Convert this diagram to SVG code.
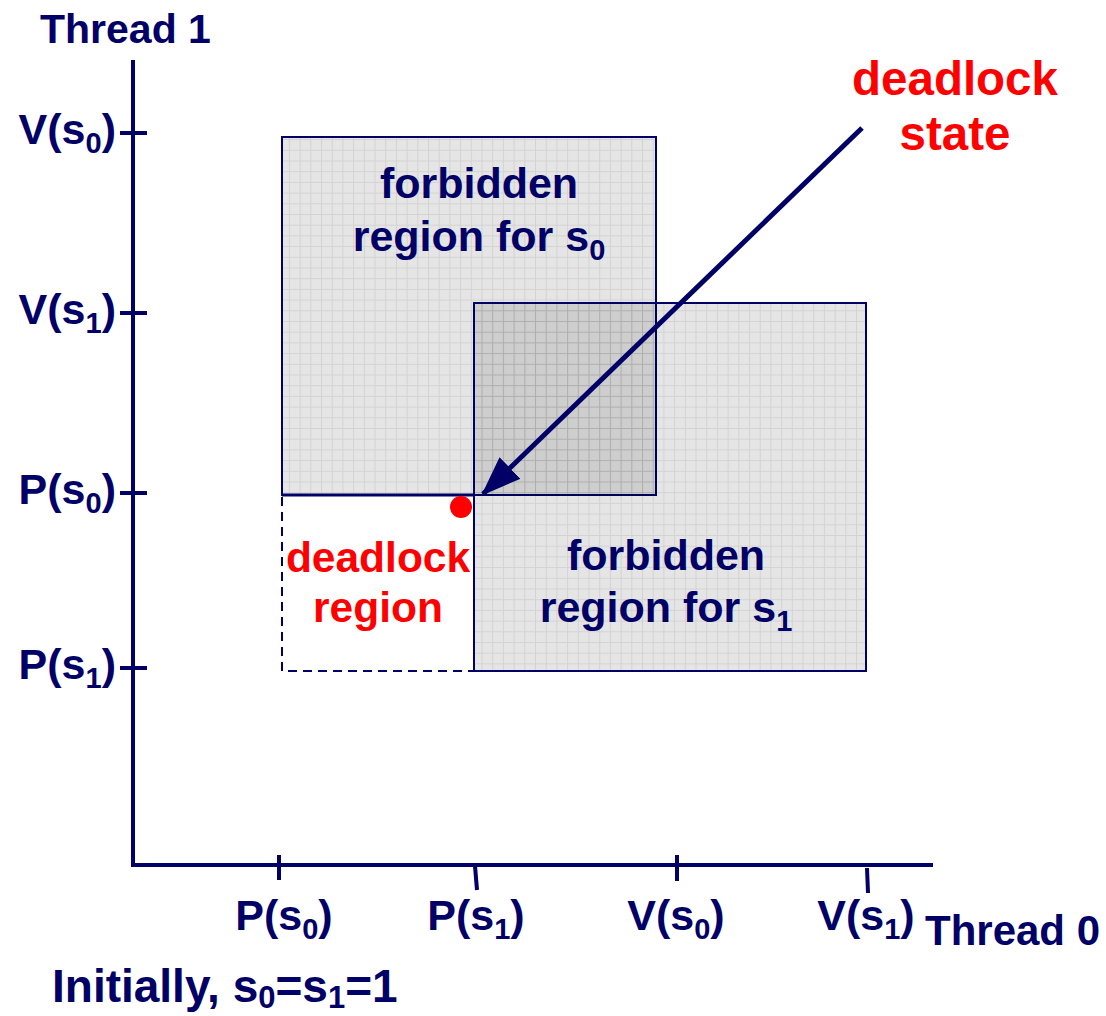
<svg xmlns="http://www.w3.org/2000/svg" width="1106" height="1016" viewBox="0 0 1106 1016">
<style>
.t{font-family:"Liberation Sans",Arial,sans-serif;font-weight:bold;fill:#000066}
.r{font-family:"Liberation Sans",Arial,sans-serif;font-weight:bold;fill:#ff0000}
.ax{stroke:#000066;stroke-width:4;fill:none}
.box{stroke:#000066;stroke-width:2}
.dash{stroke:#000066;stroke-width:2;stroke-dasharray:9 6;fill:none}
</style>
<defs>
<pattern id="grid" width="10.7" height="10.7" patternUnits="userSpaceOnUse">
<rect width="10.7" height="10.7" fill="#000" fill-opacity="0.1"/>
<path d="M0 0.5H10.7M0.5 0V10.7" stroke="#000" stroke-opacity="0.08" stroke-width="1"/>
</pattern>
<marker id="ah" markerWidth="8" markerHeight="6" refX="7.5" refY="3" orient="auto" markerUnits="strokeWidth">
<path d="M0 0L8 3L0 6Z" fill="#000066"/>
</marker>
</defs>
<rect width="1106" height="1016" fill="#fff"/>

<g id="deadlock-region-outline">
<path class="dash" d="M282 497V671H474"/>
</g>
<g id="forbidden-s0">
<rect class="box" x="282" y="137" width="374" height="358" fill="url(#grid)"/>
<line x1="282" y1="495" x2="474" y2="495" stroke="#000066" stroke-width="3"/>
<text class="t" font-size="43" text-anchor="middle" x="479" y="198">forbidden</text>
<text class="t" font-size="43" text-anchor="middle" x="479" y="251">region for s<tspan font-size="29" dy="9">0</tspan></text>
</g>
<g id="forbidden-s1">
<rect class="box" x="474" y="303" width="392" height="368" fill="url(#grid)"/>
<text class="t" font-size="43" text-anchor="middle" x="666" y="570">forbidden</text>
<text class="t" font-size="43" text-anchor="middle" x="666" y="622">region for s<tspan font-size="29" dy="9">1</tspan></text>
</g>
<g id="deadlock-region-label">
<text class="r" font-size="42.5" text-anchor="middle" x="378" y="572">deadlock</text>
<text class="r" font-size="42.5" text-anchor="middle" x="378" y="622">region</text>
</g>
<g id="deadlock-point">
<circle cx="461" cy="507" r="11" fill="#ff0000"/>
</g>
<g id="deadlock-state-label">
<text class="r" font-size="47.5" text-anchor="middle" x="955" y="95">deadlock</text>
<text class="r" font-size="47.5" text-anchor="middle" x="955" y="150">state</text>
</g>

<g id="axes">
<line class="ax" x1="133" y1="60" x2="133" y2="867"/>
<line class="ax" x1="131" y1="865" x2="933" y2="865"/>
<line class="ax" x1="120" y1="133" x2="147" y2="133"/>
<line class="ax" x1="120" y1="313" x2="147" y2="313"/>
<line class="ax" x1="120" y1="493" x2="147" y2="493"/>
<line class="ax" x1="120" y1="668" x2="147" y2="668"/>
<line class="ax" x1="279" y1="855" x2="279" y2="880"/>
<line class="ax" x1="475" y1="866" x2="477" y2="890"/>
<line class="ax" x1="677" y1="855" x2="677" y2="881"/>
<line class="ax" x1="867" y1="868" x2="868" y2="893"/>
</g>

<g id="connectors">
<line x1="862" y1="128" x2="483" y2="494" stroke="#000066" stroke-width="5" marker-end="url(#ah)"/>
</g>

<g id="labels">
<text class="t" font-size="41" x="40" y="43">Thread 1</text>
<text class="t" font-size="43" text-anchor="end" x="116" y="144">V(s<tspan font-size="29" dy="9">0</tspan><tspan dy="-9">)</tspan></text>
<text class="t" font-size="43" text-anchor="end" x="116" y="324">V(s<tspan font-size="29" dy="9">1</tspan><tspan dy="-9">)</tspan></text>
<text class="t" font-size="43" text-anchor="end" x="116" y="504">P(s<tspan font-size="29" dy="9">0</tspan><tspan dy="-9">)</tspan></text>
<text class="t" font-size="43" text-anchor="end" x="116" y="679">P(s<tspan font-size="29" dy="9">1</tspan><tspan dy="-9">)</tspan></text>
<text class="t" font-size="43" text-anchor="middle" x="284" y="930">P(s<tspan font-size="29" dy="9">0</tspan><tspan dy="-9">)</tspan></text>
<text class="t" font-size="43" text-anchor="middle" x="476" y="930">P(s<tspan font-size="29" dy="9">1</tspan><tspan dy="-9">)</tspan></text>
<text class="t" font-size="43" text-anchor="middle" x="676" y="930">V(s<tspan font-size="29" dy="9">0</tspan><tspan dy="-9">)</tspan></text>
<text class="t" font-size="43" text-anchor="middle" x="866" y="930">V(s<tspan font-size="29" dy="9">1</tspan><tspan dy="-9">)</tspan></text>
<text class="t" font-size="42" x="925" y="945">Thread 0</text>
<text class="t" font-size="46" x="52" y="1002">Initially, s<tspan font-size="31" dy="6">0</tspan><tspan dy="-6">=s</tspan><tspan font-size="31" dy="6">1</tspan><tspan dy="-6">=1</tspan></text>
</g>
</svg>
